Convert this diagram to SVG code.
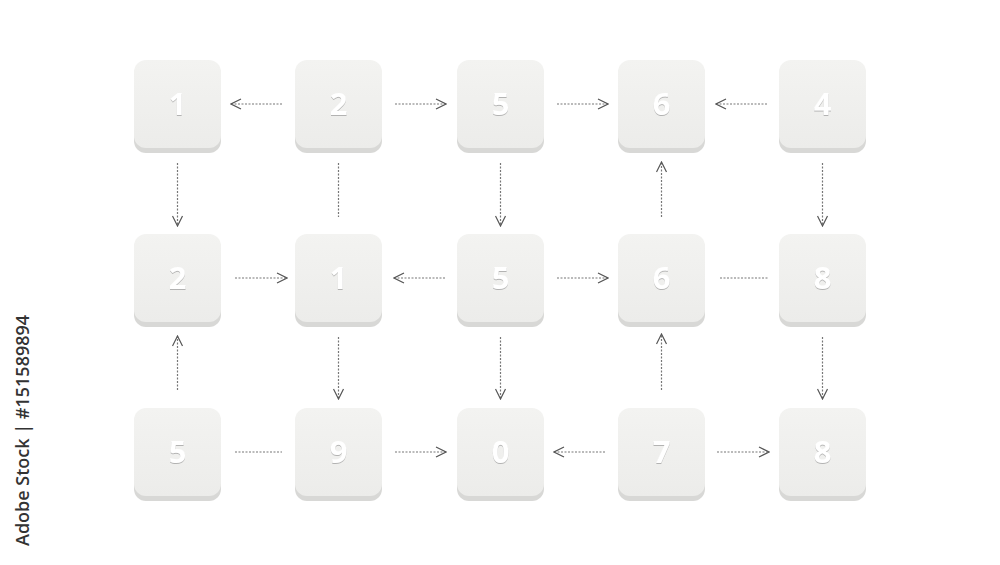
<svg xmlns="http://www.w3.org/2000/svg" width="1000" height="565" viewBox="0 0 1000 565">
<defs>
<marker id="ah" viewBox="0 0 12 12" refX="11" refY="6" markerWidth="12" markerHeight="12" markerUnits="userSpaceOnUse" orient="auto">
<path d="M1,1 L11,6 L1,11" fill="none" stroke="#555" stroke-width="1.2"/>
</marker>
<linearGradient id="face" x1="0" y1="0" x2="0" y2="1">
<stop offset="0" stop-color="#f3f3f1"/>
<stop offset="1" stop-color="#ececea"/>
</linearGradient>
<filter id="ts" x="-20%" y="-20%" width="140%" height="140%">
<feDropShadow dx="0" dy="1" stdDeviation="0.6" flood-color="#999" flood-opacity="0.7"/>
</filter>
</defs>
<style>
.edge{fill:#d8d8d6}
.face{fill:url(#face)}
.d{font-family:"Open Sans","DejaVu Sans",sans-serif;font-weight:bold;font-size:31px;fill:#fff;text-anchor:middle;filter:url(#ts)}
.c{fill:none;stroke:#777;stroke-width:1.2;stroke-dasharray:2 1.5}
.a{marker-end:url(#ah)}
.wm{font-family:"Open Sans","Liberation Sans",sans-serif;font-weight:600;font-size:18px;fill:#333}
</style>
<rect width="1000" height="565" fill="#fff"/>
<g id="nodes">
<g id="n11"><rect class="edge" x="134" y="63" width="87" height="90" rx="12"/><rect class="face" x="134" y="60" width="87" height="88" rx="12"/><text class="d" x="177.5" y="115">1</text></g>
<g id="n12"><rect class="edge" x="295" y="63" width="87" height="90" rx="12"/><rect class="face" x="295" y="60" width="87" height="88" rx="12"/><text class="d" x="338.5" y="115">2</text></g>
<g id="n13"><rect class="edge" x="457" y="63" width="87" height="90" rx="12"/><rect class="face" x="457" y="60" width="87" height="88" rx="12"/><text class="d" x="500.5" y="115">5</text></g>
<g id="n14"><rect class="edge" x="618" y="63" width="87" height="90" rx="12"/><rect class="face" x="618" y="60" width="87" height="88" rx="12"/><text class="d" x="661.5" y="115">6</text></g>
<g id="n15"><rect class="edge" x="779" y="63" width="87" height="90" rx="12"/><rect class="face" x="779" y="60" width="87" height="88" rx="12"/><text class="d" x="822.5" y="115">4</text></g>
<g id="n21"><rect class="edge" x="134" y="237" width="87" height="90" rx="12"/><rect class="face" x="134" y="234" width="87" height="88" rx="12"/><text class="d" x="177.5" y="289">2</text></g>
<g id="n22"><rect class="edge" x="295" y="237" width="87" height="90" rx="12"/><rect class="face" x="295" y="234" width="87" height="88" rx="12"/><text class="d" x="338.5" y="289">1</text></g>
<g id="n23"><rect class="edge" x="457" y="237" width="87" height="90" rx="12"/><rect class="face" x="457" y="234" width="87" height="88" rx="12"/><text class="d" x="500.5" y="289">5</text></g>
<g id="n24"><rect class="edge" x="618" y="237" width="87" height="90" rx="12"/><rect class="face" x="618" y="234" width="87" height="88" rx="12"/><text class="d" x="661.5" y="289">6</text></g>
<g id="n25"><rect class="edge" x="779" y="237" width="87" height="90" rx="12"/><rect class="face" x="779" y="234" width="87" height="88" rx="12"/><text class="d" x="822.5" y="289">8</text></g>
<g id="n31"><rect class="edge" x="134" y="411" width="87" height="90" rx="12"/><rect class="face" x="134" y="408" width="87" height="88" rx="12"/><text class="d" x="177.5" y="463">5</text></g>
<g id="n32"><rect class="edge" x="295" y="411" width="87" height="90" rx="12"/><rect class="face" x="295" y="408" width="87" height="88" rx="12"/><text class="d" x="338.5" y="463">9</text></g>
<g id="n33"><rect class="edge" x="457" y="411" width="87" height="90" rx="12"/><rect class="face" x="457" y="408" width="87" height="88" rx="12"/><text class="d" x="500.5" y="463">0</text></g>
<g id="n34"><rect class="edge" x="618" y="411" width="87" height="90" rx="12"/><rect class="face" x="618" y="408" width="87" height="88" rx="12"/><text class="d" x="661.5" y="463">7</text></g>
<g id="n35"><rect class="edge" x="779" y="411" width="87" height="90" rx="12"/><rect class="face" x="779" y="408" width="87" height="88" rx="12"/><text class="d" x="822.5" y="463">8</text></g>
</g>
<g id="connectors">
<path class="c a" d="M282,104 H231"/>
<path class="c a" d="M395,104 H446"/>
<path class="c a" d="M557,104 H608"/>
<path class="c a" d="M767,104 H716"/>
<path class="c a" d="M235,278 H287"/>
<path class="c a" d="M445,278 H394"/>
<path class="c a" d="M557,278 H608"/>
<path class="c" d="M720,278 H768"/>
<path class="c" d="M235,452 H282"/>
<path class="c a" d="M395,452 H446"/>
<path class="c a" d="M605,452 H554"/>
<path class="c a" d="M717,452 H769"/>
<path class="c a" d="M177.5,163 V226"/>
<path class="c" d="M338.5,163 V217"/>
<path class="c a" d="M500.5,163 V226"/>
<path class="c a" d="M661.5,217 V162"/>
<path class="c a" d="M822.5,163 V226"/>
<path class="c a" d="M177.5,390 V336"/>
<path class="c a" d="M338.5,337 V399"/>
<path class="c a" d="M500.5,337 V399"/>
<path class="c a" d="M661.5,390 V334"/>
<path class="c a" d="M822.5,337 V399"/>
</g>
<text class="wm" transform="translate(29,546) rotate(-90)">Adobe Stock | #151589894</text>
</svg>
